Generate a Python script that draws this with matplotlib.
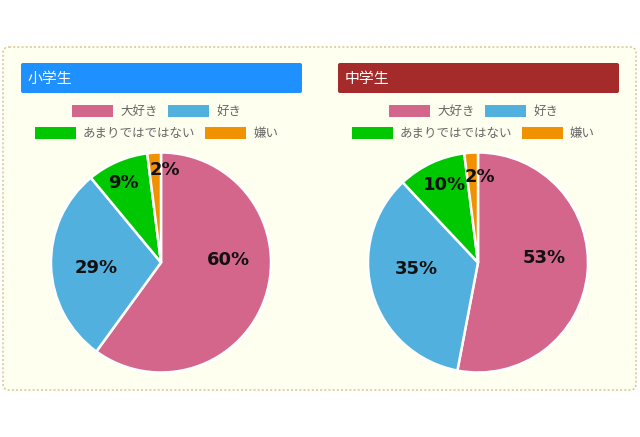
import numpy as np
import matplotlib
matplotlib.use("Agg")
import matplotlib.pyplot as plt
from matplotlib.patches import FancyBboxPatch, Rectangle

plt.rcParams['font.family'] = ['Noto Sans CJK JP', 'DejaVu Sans']

categories = ["大好き", "好き", "あまりではではない", "嫌い"]
colors = ["#d4668b", "#52b0de", "#00c800", "#f29100"]
titles = ["小学生", "中学生"]
title_colors = ["#1e90ff", "#a52a2a"]
elem_values = [60, 29, 9, 2]
junior_values = [53, 35, 10, 2]
series = [elem_values, junior_values]
# label placement (radius fraction, angle offset from slice middle, degrees)
label_r = [[0.61, 0.59, 0.80, 0.84], [0.60, 0.56, 0.77, 0.78]]
label_dang = [[20, 3, 2, -6], [9, -10, -2, -5]]

W, H = 640, 437
fig = plt.figure(figsize=(W / 100, H / 100), dpi=100)
fig.patch.set_facecolor("white")
ov = fig.add_axes([0, 0, 1, 1])
ov.set_xlim(0, W)
ov.set_ylim(H, 0)
ov.axis("off")

# panel
ov.add_patch(FancyBboxPatch((3, 47), 633, 343, boxstyle="round,pad=0,rounding_size=6",
                            facecolor="#fffff0", edgecolor="#d8c27e", linewidth=1.0,
                            linestyle=(0, (1.5, 1.5))))

offsets = [0, 317]
row1_x = [72, 168]
row2_x = [35, 205]
for p, off in enumerate(offsets):
    # header
    ov.add_patch(FancyBboxPatch((21 + off, 63), 281, 30, boxstyle="round,pad=0,rounding_size=2",
                                facecolor=title_colors[p], edgecolor="none"))
    ov.text(28 + off, 78.5, titles[p], color="white", fontsize=10.7, va="center", ha="left")
    # legend
    items = [(row1_x[0], 111, 0), (row1_x[1], 111, 1), (row2_x[0], 133, 2), (row2_x[1], 133, 3)]
    for x, y, i in items:
        ov.add_patch(Rectangle((x + off, y - 6), 41, 12, facecolor=colors[i], edgecolor="none"))
        ov.text(x + off + 48, y, categories[i], color="#666666", fontsize=9, va="center", ha="left")

    # pie
    cx, cy, r = 161 + off, 262.5, 110
    ax = fig.add_axes([(cx - r) / W, (H - cy - r) / H, 2 * r / W, 2 * r / H])
    vals = series[p]
    wedges, _ = ax.pie(vals, colors=colors, startangle=90, counterclock=False, radius=1,
                       wedgeprops=dict(edgecolor="white", linewidth=1.8))
    for w in wedges:
        w.set_clip_on(False)
    ax.set_xlim(-1, 1)
    ax.set_ylim(-1, 1)
    ax.set_aspect("equal")
    ax.axis("off")
    for i, w in enumerate(wedges):
        mid = np.deg2rad((w.theta1 + w.theta2) / 2 + label_dang[p][i])
        rr = label_r[p][i]
        ax.text(rr * np.cos(mid), rr * np.sin(mid), f"{vals[i]}%", ha="center", va="center",
                fontsize=13, fontweight="bold", family="DejaVu Sans", color="#111111")

fig.savefig("out.png", dpi=100, facecolor="white")
